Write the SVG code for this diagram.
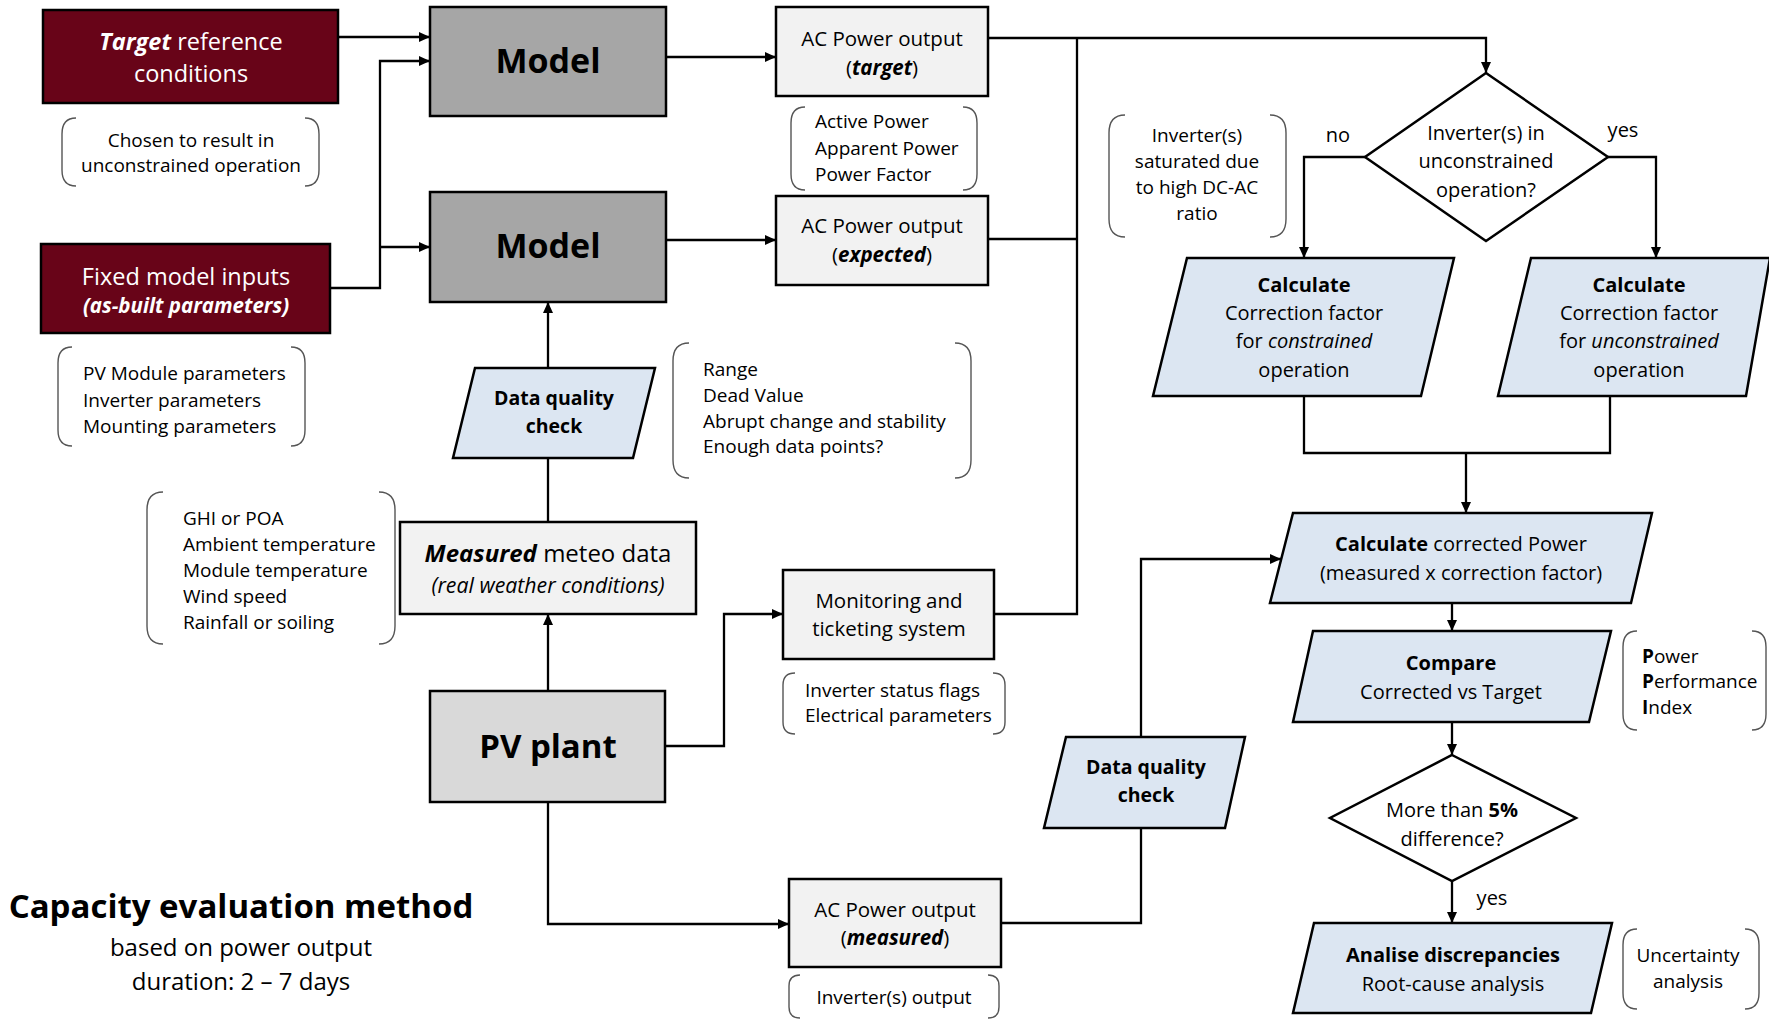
<svg xmlns="http://www.w3.org/2000/svg" width="1769" height="1020" viewBox="0 0 1769 1020">
  <defs>
    <marker id="arr" markerUnits="userSpaceOnUse" markerWidth="12" markerHeight="10" refX="11" refY="5" orient="auto">
      <path d="M0,0 L11,5 L0,10 z" fill="#000"/>
    </marker>
    <style>
      text { font-family: "Open Sans", "Liberation Sans", sans-serif; fill: #000; }
      .box { stroke: #000; stroke-width: 2.5; }
      .red { fill: #680418; }
      .grey { fill: #a6a6a6; }
      .plant { fill: #d9d9d9; }
      .light { fill: #f2f2f2; }
      .blue { fill: #dce6f2; }
      .dia { fill: #fff; }
      .note { fill: none; stroke: #555; stroke-width: 1.4; }
      .ln { fill: none; stroke: #000; stroke-width: 2.3; }
      .w { fill: #fff; }
      .c { text-anchor: middle; }
      .big { font-size: 34px; font-weight: 700; }
      .m { font-size: 20.5px; }
      .s { font-size: 19px; }
      .r { font-size: 20px; }
      .b { font-weight: 700; }
      .i { font-style: italic; }
    </style>
  </defs>

  <!-- connectors -->
  <g id="connectors">
    <path class="ln" d="M338,37 H430" marker-end="url(#arr)"/>
    <path class="ln" d="M330,288 H380 V61 H430" marker-end="url(#arr)"/>
    <path class="ln" d="M380,247 H430" marker-end="url(#arr)"/>
    <path class="ln" d="M666,57 H776" marker-end="url(#arr)"/>
    <path class="ln" d="M666,240 H776" marker-end="url(#arr)"/>
    <path class="ln" d="M988,38 H1486 V73" marker-end="url(#arr)"/>
    <path class="ln" d="M1077,38 V614 H994"/>
    <path class="ln" d="M988,239 H1077"/>
    <path class="ln" d="M548,368 V302" marker-end="url(#arr)"/>
    <path class="ln" d="M548,522 V458"/>
    <path class="ln" d="M548,691 V614" marker-end="url(#arr)"/>
    <path class="ln" d="M665,746 H724 V614 H783" marker-end="url(#arr)"/>
    <path class="ln" d="M548,802 V924 H789" marker-end="url(#arr)"/>
    <path class="ln" d="M1001,923 H1141 V828"/>
    <path class="ln" d="M1141,737 V559 H1281" marker-end="url(#arr)"/>
    <path class="ln" d="M1365,157 H1304 V258" marker-end="url(#arr)"/>
    <path class="ln" d="M1608,157 H1656 V258" marker-end="url(#arr)"/>
    <path class="ln" d="M1304,396 V453 H1610 V396"/>
    <path class="ln" d="M1466,453 V513" marker-end="url(#arr)"/>
    <path class="ln" d="M1452,603 V631" marker-end="url(#arr)"/>
    <path class="ln" d="M1452,722 V755" marker-end="url(#arr)"/>
    <path class="ln" d="M1452,881 V923" marker-end="url(#arr)"/>
    <text class="r" x="1338" y="142" text-anchor="middle">no</text>
    <text class="r" x="1623" y="137" text-anchor="middle">yes</text>
    <text class="r" x="1492" y="905" text-anchor="middle">yes</text>
  </g>

  <!-- inputs -->
  <g id="target-conditions">
    <rect class="box red" x="43" y="10" width="295" height="93"/>
    <text class="w c" x="191" y="50" font-size="23.5px"><tspan class="w b i">Target</tspan> reference</text>
    <text class="w c" x="191" y="82" font-size="23.5px">conditions</text>
  </g>
  <g id="note-chosen">
    <path class="note" d="M76,118 Q62,118 62,134 V170 Q62,186 76,186 M305,118 Q319,118 319,134 V170 Q319,186 305,186"/>
    <text class="s c" x="191" y="147">Chosen to result in</text>
    <text class="s c" x="191" y="172">unconstrained operation</text>
  </g>
  <g id="fixed-inputs">
    <rect class="box red" x="41" y="244" width="289" height="89"/>
    <text class="w c" x="186" y="285" font-size="23.5px">Fixed model inputs</text>
    <text class="w c b i" x="186" y="313" font-size="20.5px">(as-built parameters)</text>
  </g>
  <g id="note-params">
    <path class="note" d="M72,347 Q58,347 58,363 V430 Q58,446 72,446 M291,347 Q305,347 305,363 V430 Q305,446 291,446"/>
    <text class="s" x="83" y="380">PV Module parameters</text>
    <text class="s" x="83" y="407">Inverter parameters</text>
    <text class="s" x="83" y="433">Mounting parameters</text>
  </g>

  <!-- models -->
  <g id="model-target">
    <rect class="box grey" x="430" y="7" width="236" height="109"/>
    <text class="big c" x="548" y="73">Model</text>
  </g>
  <g id="model-expected">
    <rect class="box grey" x="430" y="192" width="236" height="110"/>
    <text class="big c" x="548" y="258">Model</text>
  </g>

  <g id="ac-target">
    <rect class="box light" x="776" y="7" width="212" height="89"/>
    <text class="m c" x="882" y="46">AC Power output</text>
    <text class="m c" x="882" y="75">(<tspan class="b i">target</tspan>)</text>
  </g>
  <g id="note-power">
    <path class="note" d="M805,107 Q791,107 791,123 V174 Q791,190 805,190 M963,107 Q977,107 977,123 V174 Q977,190 963,190"/>
    <text class="s" x="815" y="128">Active Power</text>
    <text class="s" x="815" y="155">Apparent Power</text>
    <text class="s" x="815" y="181">Power Factor</text>
  </g>
  <g id="ac-expected">
    <rect class="box light" x="776" y="196" width="212" height="89"/>
    <text class="m c" x="882" y="233">AC Power output</text>
    <text class="m c" x="882" y="262">(<tspan class="b i">expected</tspan>)</text>
  </g>

  <!-- measured data path -->
  <g id="dq-meteo">
    <polygon class="box blue" points="475,368 655,368 633,458 453,458"/>
    <text class="c b" x="554" y="405" font-size="19.5px">Data quality</text>
    <text class="c b" x="554" y="433" font-size="19.5px">check</text>
  </g>
  <g id="note-checks">
    <path class="note" d="M689,343 Q673,343 673,361 V460 Q673,478 689,478 M955,343 Q971,343 971,361 V460 Q971,478 955,478"/>
    <text class="s" x="703" y="376">Range</text>
    <text class="s" x="703" y="402">Dead Value</text>
    <text class="s" x="703" y="428">Abrupt change and stability</text>
    <text class="s" x="703" y="453">Enough data points?</text>
  </g>
  <g id="meteo">
    <rect class="box light" x="400" y="522" width="296" height="92"/>
    <text class="c" x="548" y="562" font-size="24px"><tspan class="b i">Measured</tspan> meteo data</text>
    <text class="c i" x="548" y="593" font-size="21.3px">(real weather conditions)</text>
  </g>
  <g id="note-meteo">
    <path class="note" d="M163,492 Q147,492 147,510 V626 Q147,644 163,644 M379,492 Q395,492 395,510 V626 Q395,644 379,644"/>
    <text class="s" x="183" y="525">GHI or POA</text>
    <text class="s" x="183" y="551">Ambient temperature</text>
    <text class="s" x="183" y="577">Module temperature</text>
    <text class="s" x="183" y="603">Wind speed</text>
    <text class="s" x="183" y="629">Rainfall or soiling</text>
  </g>
  <g id="pv-plant">
    <rect class="box plant" x="430" y="691" width="235" height="111"/>
    <text class="c b" x="548" y="758" font-size="33px">PV plant</text>
  </g>
  <g id="monitoring">
    <rect class="box light" x="783" y="570" width="211" height="89"/>
    <text class="m c" x="889" y="608">Monitoring and</text>
    <text class="m c" x="889" y="636">ticketing system</text>
  </g>
  <g id="note-monitoring">
    <path class="note" d="M795,673 Q783,673 783,685 V722 Q783,734 795,734 M993,673 Q1005,673 1005,685 V722 Q1005,734 993,734"/>
    <text class="s" x="805" y="697">Inverter status flags</text>
    <text class="s" x="805" y="722">Electrical parameters</text>
  </g>
  <g id="ac-measured">
    <rect class="box light" x="789" y="879" width="212" height="88"/>
    <text class="m c" x="895" y="917">AC Power output</text>
    <text class="m c" x="895" y="945">(<tspan class="b i">measured</tspan>)</text>
  </g>
  <g id="note-inverter-output">
    <path class="note" d="M800,975 Q789,975 789,986 V1007 Q789,1018 800,1018 M988,975 Q999,975 999,986 V1007 Q999,1018 988,1018"/>
    <text class="s c" x="894" y="1004">Inverter(s) output</text>
  </g>

  <!-- title -->
  <g id="title">
    <text class="c b" x="241" y="918" font-size="33px">Capacity evaluation method</text>
    <text class="c" x="241" y="956" font-size="24px">based on power output</text>
    <text class="c" x="241" y="990" font-size="24px">duration: 2 – 7 days</text>
  </g>

  <!-- correction branch -->
  <g id="decision-constraint">
    <polygon class="box dia" points="1486,73 1608,157 1486,241 1365,157"/>
    <text class="r c" x="1486" y="140">Inverter(s) in</text>
    <text class="r c" x="1486" y="168">unconstrained</text>
    <text class="r c" x="1486" y="197">operation?</text>
  </g>
  <g id="note-saturated">
    <path class="note" d="M1125,115 Q1109,115 1109,133 V219 Q1109,237 1125,237 M1270,115 Q1286,115 1286,133 V219 Q1286,237 1270,237"/>
    <text class="s c" x="1197" y="142">Inverter(s)</text>
    <text class="s c" x="1197" y="168">saturated due</text>
    <text class="s c" x="1197" y="194">to high DC-AC</text>
    <text class="s c" x="1197" y="220">ratio</text>
  </g>
  <g id="calc-constrained">
    <polygon class="box blue" points="1187,258 1454,258 1421,396 1153,396"/>
    <text class="r c b" x="1304" y="292">Calculate</text>
    <text class="r c" x="1304" y="320">Correction factor</text>
    <text class="r c" x="1304" y="348">for <tspan class="i">constrained</tspan></text>
    <text class="r c" x="1304" y="377">operation</text>
  </g>
  <g id="calc-unconstrained">
    <polygon class="box blue" points="1531,258 1770,258 1746,396 1498,396"/>
    <text class="r c b" x="1639" y="292">Calculate</text>
    <text class="r c" x="1639" y="320">Correction factor</text>
    <text class="r c" x="1639" y="348">for <tspan class="i">unconstrained</tspan></text>
    <text class="r c" x="1639" y="377">operation</text>
  </g>
  <g id="calc-corrected">
    <polygon class="box blue" points="1293,513 1652,513 1631,603 1270,603"/>
    <text class="r c" x="1461" y="551"><tspan class="b">Calculate</tspan> corrected Power</text>
    <text class="r c" x="1461" y="580">(measured x correction factor)</text>
  </g>
  <g id="dq-power">
    <polygon class="box blue" points="1066,737 1245,737 1225,828 1044,828"/>
    <text class="c b" x="1146" y="774" font-size="19.5px">Data quality</text>
    <text class="c b" x="1146" y="802" font-size="19.5px">check</text>
  </g>
  <g id="compare">
    <polygon class="box blue" points="1313,631 1611,631 1589,722 1293,722"/>
    <text class="r c b" x="1451" y="670">Compare</text>
    <text class="r c" x="1451" y="699">Corrected vs Target</text>
  </g>
  <g id="note-ppi">
    <path class="note" d="M1637,631 Q1623,631 1623,647 V714 Q1623,730 1637,730 M1752,631 Q1766,631 1766,647 V714 Q1766,730 1752,730"/>
    <text class="s" x="1642" y="663"><tspan class="b">P</tspan>ower</text>
    <text class="s" x="1642" y="688"><tspan class="b">P</tspan>erformance</text>
    <text class="s" x="1642" y="714"><tspan class="b">I</tspan>ndex</text>
  </g>
  <g id="decision-threshold">
    <polygon class="box dia" points="1452,755 1576,818 1452,881 1330,818"/>
    <text class="r c" x="1452" y="817">More than <tspan class="b">5%</tspan></text>
    <text class="r c" x="1452" y="846">difference?</text>
  </g>
  <g id="analyse">
    <polygon class="box blue" points="1314,923 1612,923 1591,1013 1293,1013"/>
    <text class="r c b" x="1453" y="962">Analise discrepancies</text>
    <text class="r c" x="1453" y="991">Root-cause analysis</text>
  </g>
  <g id="note-uncertainty">
    <path class="note" d="M1637,929 Q1623,929 1623,945 V993 Q1623,1009 1637,1009 M1745,929 Q1759,929 1759,945 V993 Q1759,1009 1745,1009"/>
    <text class="s c" x="1688" y="962">Uncertainty</text>
    <text class="s c" x="1688" y="988">analysis</text>
  </g>
</svg>
